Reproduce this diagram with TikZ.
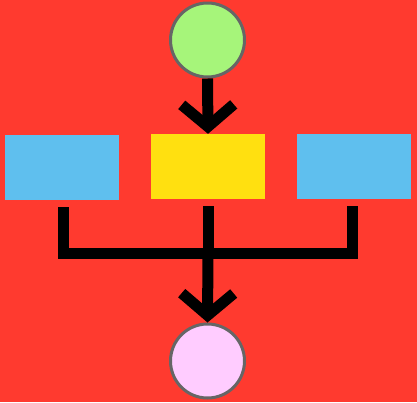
\documentclass[tikz,border=0pt]{standalone}
\usetikzlibrary{arrows.meta}
\definecolor{bgred}{HTML}{FF3A2F}
\definecolor{startgreen}{HTML}{A6F57A}
\definecolor{endpink}{HTML}{FFCCFF}
\definecolor{boxyellow}{HTML}{FFE010}
\definecolor{boxblue}{HTML}{5FBFEE}
\definecolor{rimgray}{HTML}{666666}
\begin{document}
\begin{tikzpicture}[x=1pt,y=-1pt,
  termc/.style={circle,draw=rimgray,line width=3pt,minimum size=74pt,inner sep=0pt},
  boxnode/.style={rectangle,minimum width=114pt,minimum height=65pt,inner sep=0pt},
  conn/.style={line width=11pt,black},
  arr/.style={-{Straight Barb[length=22pt,width=52pt]}}]
\fill[bgred] (0,0) rectangle (417,402);
\useasboundingbox (0,0) rectangle (417,402);
\node[termc,fill=startgreen] (start) at (207.5,40) {};
\node[termc,fill=endpink] (finish) at (207.5,361) {};
\node[boxnode,fill=boxyellow] (mid) at (208,166.5) {};
\node[boxnode,fill=boxblue] (left) at (62,167.5) {};
\node[boxnode,fill=boxblue] (right) at (353.5,166.5) {};
\coordinate (jl) at (63,253);
\coordinate (jm) at (208,253);
\coordinate (jr) at (352.5,253);
\draw[conn,arr] (start.south) -- (mid.north);
\draw[conn] ([yshift=-7pt]left.south -| jl) -- (jl) -- (jr) -- ([yshift=-7pt]right.south -| jr);
\draw[conn] ([yshift=-7pt]mid.south) -- (jm);
\draw[conn,arr] (jm) -- (finish.north);
\end{tikzpicture}
\end{document}
